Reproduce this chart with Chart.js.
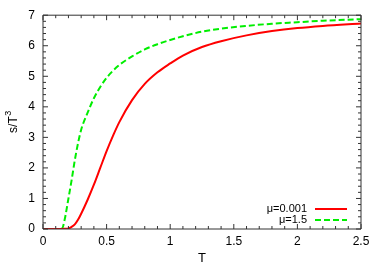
<!DOCTYPE html>
<html>
<head>
<meta charset="utf-8">
<script src="https://cdn.jsdelivr.net/npm/chart.js@4/dist/chart.umd.min.js"></script>
<style>
  html, body { margin: 0; padding: 0; background: #fff; }
  #c { display: block; }
</style>
</head>
<body>
<canvas id="c" width="382" height="267"></canvas>
<script>
// values
const tValues = [0, 0.1, 0.15, 0.17, 0.2, 0.225, 0.25, 0.275, 0.3, 0.35, 0.4, 0.45, 0.5, 0.55, 0.6, 0.7, 0.8, 0.9, 1.0, 1.1, 1.25, 1.4, 1.6, 1.8, 2.0, 2.2, 2.5];
const sMu0001 = [0, 0, 0, 0.01, 0.02, 0.07, 0.15, 0.3, 0.5, 0.95, 1.45, 2.0, 2.55, 3.05, 3.5, 4.22, 4.75, 5.13, 5.42, 5.68, 5.96, 6.15, 6.34, 6.48, 6.58, 6.65, 6.73];
const sMu15 = [0, 0, 0.02, 0.3, 1.0, 1.6, 2.25, 2.8, 3.25, 3.8, 4.28, 4.65, 4.95, 5.18, 5.37, 5.65, 5.88, 6.05, 6.19, 6.31, 6.46, 6.56, 6.65, 6.72, 6.77, 6.82, 6.87];

const seriesNames = ["\u03bc=0.001", "\u03bc=1.5"];
const xTicks = [0, 0.5, 1, 1.5, 2, 2.5];
const yTicks = [0, 1, 2, 3, 4, 5, 6, 7];

const FONT = "'Liberation Sans', Arial, Helvetica, sans-serif";

const toPoints = ys => tValues.map((t, i) => ({ x: t, y: ys[i] }));

// gnuplot style frame with inward major/minor ticks on all sides
const framePlugin = {
    id: "frame",
    afterDatasetsDraw(chart) {
        const { ctx, chartArea: a, scales } = chart;
        const xs = scales.x, ys = scales.y;
        ctx.save();
        ctx.strokeStyle = "#333";
        ctx.lineWidth = 1;
        ctx.beginPath();
        ctx.rect(a.left, a.top, a.right - a.left, a.bottom - a.top);
        ctx.stroke();

        ctx.beginPath();
        for (let i = 0; i <= 25; i++) {
            const v = i / 10;
            const px = xs.getPixelForValue(v);
            const len = (i % 5 === 0) ? 5 : 3;
            ctx.moveTo(px, a.bottom); ctx.lineTo(px, a.bottom - len);
            ctx.moveTo(px, a.top); ctx.lineTo(px, a.top + len);
        }
        for (let i = 0; i <= 35; i++) {
            const v = i / 5;
            const py = ys.getPixelForValue(v);
            const len = (i % 5 === 0) ? 5 : 3;
            ctx.moveTo(a.left, py); ctx.lineTo(a.left + len, py);
            ctx.moveTo(a.right, py); ctx.lineTo(a.right - len, py);
        }
        ctx.stroke();

        // y axis title with a real superscript
        ctx.save();
        ctx.translate(12, (a.top + a.bottom) / 2);
        ctx.rotate(-Math.PI / 2);
        ctx.fillStyle = "#000";
        ctx.textBaseline = "middle";
        ctx.font = "12px " + FONT;
        const main = "s/T";
        const wMain = ctx.measureText(main).width;
        ctx.font = "9px " + FONT;
        const wSup = ctx.measureText("3").width;
        const x0 = -(wMain + wSup) / 2;
        ctx.font = "12px " + FONT;
        ctx.textAlign = "left";
        ctx.fillText(main, x0, 2);
        ctx.font = "9px " + FONT;
        ctx.fillText("3", x0 + wMain + 0.5, -3);
        ctx.restore();

        // key, bottom right inside the plot
        ctx.font = "11px " + FONT;
        ctx.fillStyle = "#000";
        ctx.textAlign = "right";
        ctx.textBaseline = "middle";
        const ds = chart.data.datasets;
        const rows = [209, 220];
        ds.forEach((d, i) => {
            const y = rows[i];
            ctx.fillText(d.label, 307, y);
            ctx.beginPath();
            ctx.strokeStyle = d.borderColor;
            ctx.lineWidth = 2;
            ctx.setLineDash(d.borderDash || []);
            ctx.moveTo(315, y);
            ctx.lineTo(347, y);
            ctx.stroke();
            ctx.setLineDash([]);
        });
        ctx.restore();
    }
};

new Chart(document.getElementById("c"), {
    type: "scatter",
    data: {
        datasets: [
            {
                label: seriesNames[0],
                data: toPoints(sMu0001),
                showLine: true,
                borderColor: "#ff0000",
                borderWidth: 2,
                pointRadius: 0,
                cubicInterpolationMode: "monotone"
            },
            {
                label: seriesNames[1],
                data: toPoints(sMu15),
                showLine: true,
                borderColor: "#00ee00",
                borderWidth: 2,
                borderDash: [6, 3],
                pointRadius: 0,
                cubicInterpolationMode: "monotone"
            }
        ]
    },
    options: {
        responsive: false,
        animation: false,
        devicePixelRatio: 1,
        layout: { padding: { left: 0, top: 14, right: 21, bottom: 0 } },
        plugins: {
            legend: { display: false },
            tooltip: { enabled: false }
        },
        scales: {
            x: {
                type: "linear",
                min: 0,
                max: 2.5,
                afterBuildTicks: s => { s.ticks = xTicks.map(v => ({ value: v })); },
                afterFit: s => { s.height = 38; },
                grid: { display: false, drawTicks: false },
                border: { display: false },
                ticks: {
                    color: "#000",
                    padding: 5,
                    font: { family: FONT, size: 12 },
                    callback: v => String(v)
                },
                title: {
                    display: true,
                    text: "T",
                    color: "#000",
                    padding: 1,
                    font: { family: FONT, size: 13 }
                }
            },
            y: {
                type: "linear",
                min: 0,
                max: 7,
                afterBuildTicks: s => { s.ticks = yTicks.map(v => ({ value: v })); },
                afterFit: s => { s.width = 43; },
                grid: { display: false, drawTicks: false },
                border: { display: false },
                ticks: {
                    color: "#000",
                    padding: 8,
                    font: { family: FONT, size: 12 },
                    callback: v => String(v)
                },
                title: { display: false }
            }
        }
    },
    plugins: [framePlugin]
});
</script>
</body>
</html>
